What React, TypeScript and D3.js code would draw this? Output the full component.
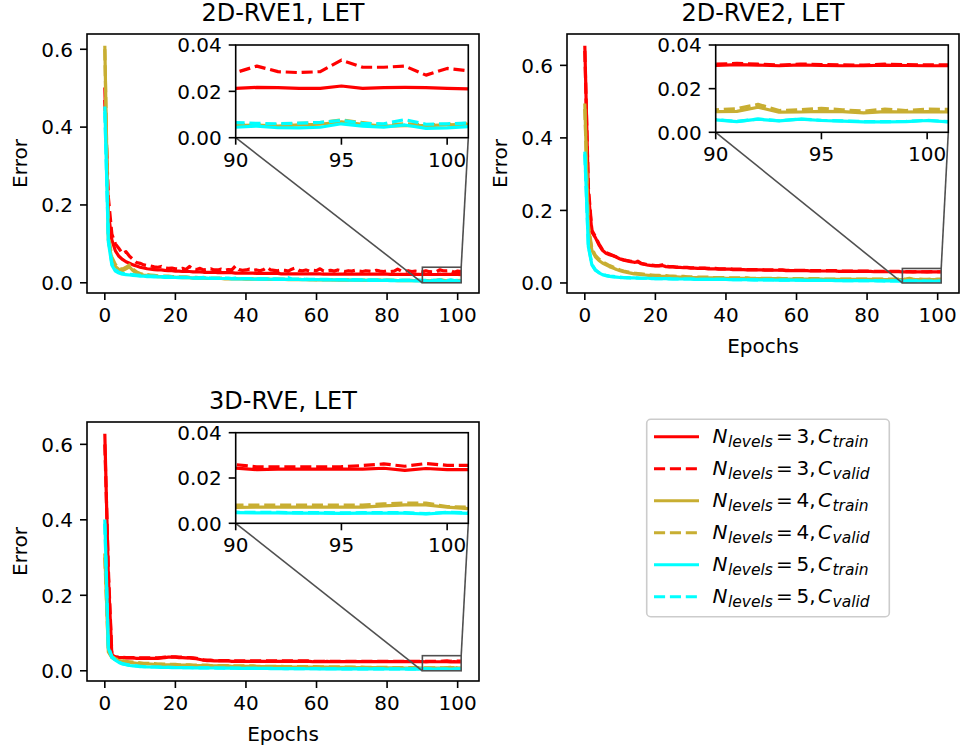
import React from 'react';
import * as d3 from 'd3';

// ---------------- DATA ----------------
const EPOCHS: number[] = d3.range(0, 102);
const LEVELS = [3, 4, 5];
const SUBSETS = ['train', 'valid'];
const MAIN_X_TICKS = [0, 20, 40, 60, 80, 100];
const MAIN_Y_TICKS = [0, 0.2, 0.4, 0.6];
const INSET_X = [90, 101];
const INSET_Y = [0, 0.04];
const INSET_X_TICKS = [90, 95, 100];
const INSET_Y_TICKS = [0, 0.02, 0.04];

// 2D-RVE1
const rve1_n3_train = [0.502,0.180,0.110,0.082,0.068,0.060,0.054,0.050,0.046,0.043,
0.040,0.038,0.036,0.035,0.034,0.033,0.033,0.032,0.031,0.031,
0.030,0.030,0.029,0.029,0.029,0.028,0.028,0.028,0.027,0.027,
0.027,0.027,0.026,0.026,0.026,0.026,0.026,0.025,0.025,0.025,
0.025,0.025,0.025,0.024,0.024,0.024,0.024,0.024,0.024,0.024,
0.023,0.023,0.023,0.023,0.023,0.023,0.023,0.023,0.023,0.023,
0.023,0.023,0.022,0.022,0.022,0.022,0.022,0.022,0.022,0.022,
0.022,0.022,0.022,0.022,0.022,0.022,0.022,0.022,0.022,0.022,
0.022,0.0218,0.0218,0.0217,0.0216,0.0216,0.0215,0.0215,0.0214,0.0214,
0.0213,0.0217,0.0216,0.0213,0.0213,0.0223,0.0213,0.0216,0.0217,0.0216,0.0213,0.0211];
const rve1_n3_valid = [0.470,0.220,0.125,0.100,0.088,0.075,0.080,0.068,0.060,0.052,
0.050,0.046,0.044,0.043,0.041,0.040,0.042,0.038,0.037,0.038,
0.036,0.035,0.037,0.034,0.042,0.035,0.034,0.037,0.033,0.034,
0.036,0.033,0.033,0.035,0.032,0.034,0.033,0.043,0.034,0.032,
0.033,0.035,0.032,0.033,0.031,0.034,0.040,0.033,0.032,0.031,
0.033,0.032,0.030,0.035,0.038,0.032,0.031,0.033,0.030,0.032,
0.031,0.036,0.030,0.031,0.032,0.030,0.033,0.031,0.029,0.031,
0.030,0.032,0.030,0.029,0.031,0.030,0.029,0.032,0.030,0.029,
0.031,0.029,0.030,0.035,0.030,0.029,0.031,0.029,0.030,0.029,
0.0281,0.0309,0.0285,0.0281,0.0285,0.0335,0.0304,0.0304,0.0309,0.0270,0.0299,0.0289];
const rve1_n4_train = [0.609,0.110,0.060,0.042,0.034,0.031,0.036,0.041,0.031,0.025,
0.022,0.020,0.019,0.018,0.017,0.016,0.016,0.015,0.015,0.014,
0.014,0.014,0.013,0.013,0.013,0.012,0.012,0.012,0.012,0.011,
0.011,0.011,0.011,0.011,0.010,0.010,0.010,0.010,0.010,0.0098,
0.0096,0.0095,0.0094,0.0093,0.0092,0.0090,0.0089,0.0088,0.0087,0.0086,
0.0085,0.0084,0.0083,0.0082,0.0081,0.0080,0.0079,0.0078,0.0077,0.0076,
0.0075,0.0074,0.0073,0.0072,0.0071,0.0070,0.0070,0.0069,0.0068,0.0067,
0.0066,0.0066,0.0065,0.0064,0.0064,0.0063,0.0062,0.0062,0.0061,0.0060,
0.0060,0.0059,0.0059,0.0058,0.0058,0.0057,0.0057,0.0056,0.0056,0.0055,
0.0052,0.0054,0.0050,0.0055,0.0058,0.0068,0.0058,0.0050,0.0052,0.0052,0.0055,0.0058];
const rve1_n4_valid = [0.600,0.125,0.066,0.047,0.038,0.035,0.040,0.046,0.035,0.028,
0.024,0.022,0.021,0.020,0.019,0.018,0.018,0.017,0.017,0.016,
0.016,0.015,0.015,0.015,0.014,0.014,0.014,0.013,0.013,0.013,
0.012,0.012,0.012,0.012,0.011,0.011,0.011,0.011,0.011,0.0108,
0.0106,0.0104,0.0103,0.0102,0.0100,0.0099,0.0098,0.0097,0.0096,0.0094,
0.0093,0.0092,0.0091,0.0090,0.0089,0.0088,0.0087,0.0086,0.0085,0.0084,
0.0083,0.0082,0.0081,0.0080,0.0079,0.0078,0.0077,0.0076,0.0076,0.0075,
0.0074,0.0073,0.0072,0.0072,0.0071,0.0070,0.0069,0.0069,0.0068,0.0067,
0.0067,0.0066,0.0065,0.0065,0.0064,0.0064,0.0063,0.0063,0.0062,0.0062,
0.0058,0.0055,0.0055,0.0062,0.0065,0.0077,0.0065,0.0055,0.0060,0.0055,0.0058,0.0062];
const rve1_n5_train = [0.453,0.105,0.045,0.030,0.025,0.022,0.021,0.020,0.019,0.018,
0.017,0.017,0.016,0.016,0.015,0.015,0.015,0.014,0.014,0.014,
0.014,0.013,0.013,0.013,0.013,0.012,0.012,0.012,0.012,0.012,
0.011,0.011,0.011,0.011,0.011,0.011,0.010,0.010,0.010,0.010,
0.010,0.0098,0.0096,0.0095,0.0094,0.0093,0.0092,0.0091,0.0090,0.0089,
0.0088,0.0087,0.0095,0.0086,0.0085,0.0084,0.0083,0.0082,0.0081,0.0080,
0.0079,0.0078,0.0077,0.0076,0.0075,0.0074,0.0073,0.0072,0.0071,0.0070,
0.0069,0.0068,0.0067,0.0066,0.0065,0.0064,0.0063,0.0062,0.0061,0.0060,
0.0059,0.0058,0.0057,0.0056,0.0055,0.0054,0.0053,0.0052,0.0051,0.0050,
0.0045,0.0050,0.0043,0.0042,0.0045,0.0060,0.0050,0.0045,0.0055,0.0040,0.0042,0.0048];
const rve1_n5_valid = [0.440,0.112,0.050,0.033,0.027,0.024,0.023,0.022,0.021,0.020,
0.019,0.018,0.018,0.017,0.017,0.016,0.016,0.016,0.015,0.015,
0.015,0.014,0.014,0.014,0.014,0.013,0.013,0.013,0.014,0.013,
0.012,0.012,0.012,0.012,0.012,0.012,0.011,0.012,0.011,0.011,
0.011,0.011,0.010,0.010,0.010,0.010,0.010,0.010,0.0098,0.0097,
0.0096,0.0096,0.0130,0.0095,0.0094,0.0093,0.0092,0.0091,0.0090,0.0089,
0.0088,0.0088,0.0087,0.0086,0.0085,0.0084,0.0083,0.0082,0.0081,0.0080,
0.0080,0.0079,0.0078,0.0077,0.0076,0.0076,0.0075,0.0074,0.0073,0.0072,
0.0072,0.0071,0.0070,0.0070,0.0069,0.0068,0.0068,0.0067,0.0066,0.0066,
0.0065,0.0062,0.0060,0.0063,0.0066,0.0075,0.0062,0.0060,0.0078,0.0058,0.0060,0.0063];

// 2D-RVE2
const rve2_n3_train = [0.654,0.250,0.140,0.125,0.105,0.090,0.082,0.078,0.075,0.071,
0.066,0.063,0.061,0.059,0.057,0.058,0.053,0.051,0.049,0.048,
0.047,0.047,0.048,0.045,0.044,0.044,0.043,0.043,0.042,0.042,
0.041,0.041,0.040,0.040,0.040,0.039,0.039,0.039,0.038,0.038,
0.038,0.038,0.037,0.037,0.037,0.037,0.036,0.036,0.036,0.036,
0.036,0.035,0.035,0.035,0.035,0.035,0.035,0.034,0.034,0.034,
0.034,0.034,0.034,0.034,0.033,0.033,0.033,0.033,0.033,0.033,
0.033,0.033,0.032,0.032,0.032,0.032,0.032,0.032,0.032,0.032,
0.032,0.032,0.031,0.031,0.031,0.031,0.031,0.031,0.031,0.031,
0.0306,0.0310,0.0308,0.0305,0.0309,0.0306,0.0305,0.0305,0.0308,0.0306,0.0305,0.0305];
const rve2_n3_valid = [0.640,0.265,0.145,0.128,0.108,0.092,0.084,0.080,0.076,0.072,
0.067,0.064,0.062,0.060,0.058,0.060,0.054,0.052,0.050,0.049,
0.048,0.048,0.050,0.046,0.045,0.045,0.044,0.044,0.043,0.043,
0.042,0.042,0.041,0.041,0.041,0.040,0.040,0.040,0.039,0.039,
0.039,0.039,0.038,0.038,0.038,0.038,0.037,0.037,0.037,0.037,
0.037,0.036,0.036,0.036,0.036,0.036,0.036,0.035,0.035,0.035,
0.035,0.035,0.035,0.035,0.034,0.034,0.034,0.034,0.034,0.034,
0.034,0.034,0.033,0.033,0.033,0.033,0.033,0.033,0.033,0.033,
0.033,0.033,0.032,0.032,0.032,0.032,0.032,0.032,0.032,0.032,
0.0312,0.0316,0.0312,0.0308,0.0313,0.0310,0.0309,0.0308,0.0312,0.0310,0.0309,0.0309];
const rve2_n4_train = [0.495,0.150,0.090,0.072,0.062,0.055,0.050,0.045,0.041,0.037,
0.034,0.031,0.029,0.027,0.025,0.024,0.023,0.022,0.021,0.020,
0.019,0.019,0.018,0.018,0.017,0.017,0.017,0.016,0.016,0.016,
0.015,0.015,0.015,0.015,0.014,0.014,0.014,0.014,0.014,0.014,
0.013,0.013,0.013,0.013,0.013,0.013,0.013,0.012,0.012,0.012,
0.012,0.012,0.012,0.012,0.012,0.012,0.011,0.011,0.011,0.011,
0.011,0.011,0.011,0.011,0.011,0.011,0.011,0.011,0.010,0.010,
0.010,0.010,0.010,0.010,0.010,0.010,0.010,0.010,0.010,0.010,
0.010,0.0098,0.0098,0.0097,0.0097,0.0096,0.0096,0.0096,0.0095,0.0095,
0.0095,0.0096,0.0115,0.0092,0.0093,0.0096,0.0095,0.0089,0.0095,0.0093,0.0095,0.0093];
const rve2_n4_valid = [0.480,0.160,0.095,0.076,0.066,0.058,0.053,0.048,0.044,0.040,
0.036,0.033,0.031,0.029,0.027,0.026,0.025,0.024,0.023,0.022,
0.021,0.021,0.020,0.020,0.019,0.019,0.018,0.018,0.018,0.017,
0.017,0.017,0.016,0.016,0.016,0.016,0.015,0.015,0.015,0.015,
0.015,0.014,0.014,0.014,0.014,0.014,0.014,0.013,0.013,0.013,
0.013,0.013,0.013,0.013,0.013,0.013,0.012,0.012,0.012,0.012,
0.012,0.012,0.012,0.012,0.012,0.012,0.012,0.012,0.011,0.011,
0.011,0.011,0.011,0.011,0.011,0.011,0.011,0.011,0.011,0.011,
0.011,0.011,0.0108,0.0107,0.0107,0.0106,0.0106,0.0105,0.0105,0.0104,
0.0103,0.0108,0.0128,0.0100,0.0103,0.0110,0.0103,0.0097,0.0106,0.0100,0.0106,0.0105];
const rve2_n5_train = [0.362,0.100,0.050,0.035,0.028,0.023,0.020,0.018,0.017,0.016,
0.015,0.015,0.014,0.014,0.014,0.013,0.013,0.013,0.013,0.012,
0.012,0.012,0.012,0.012,0.011,0.011,0.011,0.011,0.011,0.011,
0.011,0.010,0.010,0.010,0.010,0.010,0.010,0.010,0.0098,0.0097,
0.0096,0.0094,0.0093,0.0092,0.0091,0.0090,0.0089,0.0088,0.0087,0.0086,
0.0085,0.0084,0.0083,0.0082,0.0081,0.0080,0.0079,0.0078,0.0077,0.0076,
0.0075,0.0075,0.0074,0.0073,0.0072,0.0071,0.0071,0.0070,0.0069,0.0068,
0.0068,0.0067,0.0066,0.0066,0.0065,0.0064,0.0064,0.0063,0.0063,0.0062,
0.0062,0.0061,0.0061,0.0060,0.0060,0.0059,0.0059,0.0058,0.0058,0.0057,
0.0057,0.0049,0.0060,0.0052,0.0060,0.0054,0.0051,0.0048,0.0048,0.0049,0.0054,0.0048];
const rve2_n5_valid = [0.355,0.104,0.052,0.036,0.029,0.024,0.021,0.019,0.018,0.017,
0.016,0.015,0.015,0.014,0.014,0.014,0.013,0.013,0.013,0.013,
0.012,0.012,0.012,0.012,0.012,0.011,0.011,0.011,0.011,0.011,
0.011,0.011,0.010,0.010,0.010,0.010,0.010,0.010,0.010,0.0098,
0.0097,0.0096,0.0094,0.0093,0.0092,0.0091,0.0090,0.0089,0.0088,0.0087,
0.0086,0.0085,0.0084,0.0083,0.0082,0.0081,0.0080,0.0079,0.0078,0.0077,
0.0077,0.0076,0.0075,0.0074,0.0073,0.0073,0.0072,0.0071,0.0070,0.0070,
0.0069,0.0068,0.0068,0.0067,0.0066,0.0066,0.0065,0.0065,0.0064,0.0063,
0.0063,0.0062,0.0062,0.0061,0.0061,0.0060,0.0060,0.0059,0.0059,0.0058,
0.0058,0.0050,0.0061,0.0053,0.0061,0.0055,0.0052,0.0049,0.0049,0.0050,0.0055,0.0049];

// 3D-RVE
const rve3_n3_train = [0.628,0.250,0.040,0.036,0.035,0.035,0.034,0.034,0.034,0.033,
0.033,0.033,0.033,0.033,0.033,0.033,0.034,0.035,0.036,0.036,
0.036,0.035,0.035,0.034,0.034,0.033,0.032,0.030,0.028,0.027,
0.027,0.026,0.026,0.026,0.026,0.026,0.025,0.025,0.025,0.025,
0.025,0.025,0.025,0.025,0.025,0.025,0.025,0.025,0.025,0.025,
0.025,0.025,0.025,0.025,0.025,0.025,0.025,0.025,0.025,0.024,
0.024,0.024,0.024,0.025,0.024,0.024,0.024,0.024,0.024,0.024,
0.024,0.024,0.024,0.024,0.024,0.024,0.024,0.024,0.024,0.024,
0.024,0.024,0.024,0.024,0.024,0.024,0.024,0.024,0.024,0.024,
0.0244,0.0237,0.0239,0.0239,0.0239,0.0239,0.0239,0.0243,0.0234,0.0242,0.0237,0.0237];
const rve3_n3_valid = [0.600,0.270,0.042,0.037,0.036,0.036,0.035,0.035,0.035,0.034,
0.034,0.034,0.034,0.034,0.034,0.034,0.035,0.036,0.037,0.037,
0.037,0.036,0.036,0.035,0.035,0.034,0.033,0.031,0.029,0.028,
0.028,0.027,0.027,0.027,0.027,0.027,0.026,0.026,0.026,0.026,
0.026,0.026,0.026,0.026,0.026,0.026,0.026,0.026,0.026,0.026,
0.026,0.026,0.026,0.026,0.026,0.026,0.026,0.026,0.026,0.025,
0.025,0.025,0.025,0.026,0.025,0.025,0.025,0.025,0.025,0.025,
0.025,0.025,0.025,0.025,0.025,0.025,0.025,0.025,0.025,0.025,
0.025,0.025,0.025,0.025,0.025,0.025,0.025,0.025,0.025,0.025,
0.0259,0.0249,0.0249,0.0249,0.0249,0.0250,0.0255,0.0262,0.0252,0.0264,0.0256,0.0256];
const rve3_n4_train = [0.311,0.050,0.035,0.030,0.027,0.025,0.023,0.022,0.021,0.020,
0.019,0.019,0.018,0.018,0.017,0.017,0.017,0.016,0.016,0.016,
0.016,0.015,0.015,0.015,0.015,0.014,0.014,0.014,0.014,0.014,
0.013,0.013,0.013,0.013,0.013,0.013,0.012,0.012,0.012,0.012,
0.012,0.012,0.012,0.011,0.011,0.011,0.011,0.011,0.011,0.011,
0.011,0.010,0.010,0.010,0.010,0.010,0.010,0.010,0.010,0.010,
0.0098,0.0097,0.0096,0.0095,0.0094,0.0093,0.0092,0.0091,0.0090,0.0089,
0.0088,0.0087,0.0086,0.0085,0.0084,0.0083,0.0082,0.0081,0.0080,0.0079,
0.0078,0.0077,0.0076,0.0075,0.0074,0.0073,0.0072,0.0072,0.0071,0.0071,
0.0070,0.0071,0.0071,0.0071,0.0071,0.0071,0.0071,0.0077,0.0081,0.0081,0.0071,0.0065];
const rve3_n4_valid = [0.300,0.055,0.038,0.032,0.029,0.027,0.025,0.024,0.023,0.022,
0.021,0.020,0.020,0.019,0.019,0.018,0.018,0.018,0.017,0.017,
0.017,0.016,0.016,0.016,0.016,0.015,0.015,0.015,0.015,0.015,
0.014,0.014,0.014,0.014,0.014,0.014,0.013,0.013,0.013,0.013,
0.013,0.013,0.013,0.012,0.012,0.012,0.012,0.012,0.012,0.012,
0.012,0.011,0.011,0.011,0.011,0.011,0.011,0.011,0.011,0.011,
0.0108,0.0107,0.0106,0.0105,0.0104,0.0103,0.0102,0.0101,0.0100,0.0099,
0.0098,0.0097,0.0096,0.0095,0.0094,0.0093,0.0092,0.0091,0.0090,0.0089,
0.0088,0.0087,0.0086,0.0085,0.0084,0.0083,0.0082,0.0082,0.0081,0.0081,
0.0080,0.0080,0.0080,0.0080,0.0080,0.0080,0.0080,0.0086,0.0089,0.0089,0.0074,0.0071];
const rve3_n5_train = [0.401,0.060,0.035,0.028,0.022,0.018,0.016,0.014,0.013,0.012,
0.011,0.011,0.010,0.010,0.010,0.0095,0.0092,0.0090,0.0088,0.0086,
0.0085,0.0084,0.0082,0.0081,0.0080,0.0079,0.0078,0.0077,0.0076,0.0075,
0.0074,0.0073,0.0072,0.0071,0.0070,0.0069,0.0068,0.0067,0.0066,0.0065,
0.0064,0.0063,0.0062,0.0062,0.0061,0.0060,0.0060,0.0059,0.0059,0.0058,
0.0058,0.0057,0.0057,0.0056,0.0056,0.0055,0.0055,0.0054,0.0054,0.0053,
0.0053,0.0052,0.0052,0.0052,0.0051,0.0051,0.0051,0.0050,0.0050,0.0050,
0.0050,0.0049,0.0049,0.0049,0.0049,0.0048,0.0048,0.0048,0.0048,0.0048,
0.0047,0.0047,0.0047,0.0047,0.0047,0.0047,0.0046,0.0046,0.0046,0.0046,
0.0047,0.0046,0.0046,0.0045,0.0045,0.0044,0.0045,0.0045,0.0045,0.0041,0.0047,0.0044];
const rve3_n5_valid = [0.390,0.064,0.037,0.029,0.023,0.019,0.017,0.015,0.014,0.013,
0.012,0.011,0.011,0.010,0.010,0.010,0.0095,0.0093,0.0091,0.0089,
0.0087,0.0086,0.0084,0.0083,0.0082,0.0081,0.0080,0.0079,0.0078,0.0077,
0.0076,0.0075,0.0074,0.0073,0.0072,0.0071,0.0070,0.0069,0.0068,0.0067,
0.0066,0.0065,0.0064,0.0064,0.0063,0.0062,0.0062,0.0061,0.0061,0.0060,
0.0060,0.0059,0.0059,0.0058,0.0058,0.0057,0.0057,0.0056,0.0056,0.0055,
0.0055,0.0054,0.0054,0.0054,0.0053,0.0053,0.0053,0.0052,0.0052,0.0052,
0.0052,0.0051,0.0051,0.0051,0.0051,0.0050,0.0050,0.0050,0.0050,0.0050,
0.0049,0.0049,0.0049,0.0049,0.0049,0.0049,0.0048,0.0048,0.0048,0.0048,
0.0049,0.0048,0.0048,0.0047,0.0047,0.0046,0.0047,0.0047,0.0047,0.0043,0.0049,0.0046];

const TITLES = ['2D-RVE1, LET', '2D-RVE2, LET', '3D-RVE, LET'];

// ---------------- STYLE / LAYOUT ----------------
const COLORS: Record<number, string> = { 3: '#ff0000', 4: '#c8ae32', 5: '#00ffff' };
const DASH = '11.1,4.8';
const FONT = 'DejaVu Sans, Verdana, sans-serif';

type Series = { level: number; subset: string; values: number[] };
const mk = (vals: number[][]): Series[] =>
  LEVELS.flatMap((lv, li) => SUBSETS.map((sb, si) => ({ level: lv, subset: sb, values: vals[li * 2 + si] })));

const PANELS = [
  {
    title: TITLES[0],
    series: mk([rve1_n3_train, rve1_n3_valid, rve1_n4_train, rve1_n4_valid, rve1_n5_train, rve1_n5_valid]),
    box: { x0: 87, x1: 479, y0: 34, y1: 293 },
    inset: { x0: 235.7, x1: 468.3, y0: 45, y1: 137.7 },
    xlabel: false,
    ylabelX: 26.5,
  },
  {
    title: TITLES[1],
    series: mk([rve2_n3_train, rve2_n3_valid, rve2_n4_train, rve2_n4_valid, rve2_n5_train, rve2_n5_valid]),
    box: { x0: 567, x1: 959, y0: 34, y1: 293 },
    inset: { x0: 715.7, x1: 948.3, y0: 45, y1: 132.3 },
    xlabel: true,
    ylabelX: 506.5,
  },
  {
    title: TITLES[2],
    series: mk([rve3_n3_train, rve3_n3_valid, rve3_n4_train, rve3_n4_valid, rve3_n5_train, rve3_n5_valid]),
    box: { x0: 87, x1: 479, y0: 422, y1: 681 },
    inset: { x0: 235.7, x1: 468.3, y0: 432.7, y1: 523.3 },
    xlabel: true,
    ylabelX: 26.5,
  },
];

const SPINE = 1.6;
const TICK = 7;
const LW = 3.2;

function Panel({ p, idx }: { p: any; idx: number }) {
  const { box, inset } = p;
  const all: number[] = p.series.flatMap((s: Series) => s.values);
  const [ymin, ymax] = d3.extent(all) as [number, number];
  const yr = ymax - ymin;
  const [xmin, xmax] = d3.extent(EPOCHS) as [number, number];
  const xr = xmax - xmin;
  const x = d3.scaleLinear().domain([xmin - 0.05 * xr, xmax + 0.05 * xr]).range([box.x0, box.x1]);
  const y = d3.scaleLinear().domain([ymin - 0.05 * yr, ymax + 0.05 * yr]).range([box.y1, box.y0]);
  const xi = d3.scaleLinear().domain(INSET_X).range([inset.x0, inset.x1]);
  const yi = d3.scaleLinear().domain(INSET_Y).range([inset.y1, inset.y0]);
  const line = d3.line<number>().x((_, i) => x(EPOCHS[i])).y((v) => y(v));
  const lineI = d3.line<number>().x((_, i) => xi(EPOCHS[i])).y((v) => yi(v));
  const cx = (box.x0 + box.x1) / 2;
  const cy = (box.y0 + box.y1) / 2;
  const f1 = d3.format('.1f');
  const f2 = d3.format('.2f');
  const rx0 = x(INSET_X[0]), rx1 = x(INSET_X[1]);
  const ry0 = y(INSET_Y[1]), ry1 = y(INSET_Y[0]);
  const clipMain = `clip-main-${idx}`;
  const clipIn = `clip-in-${idx}`;

  return (
    <g>
      <defs>
        <clipPath id={clipMain}>
          <rect x={box.x0} y={box.y0} width={box.x1 - box.x0} height={box.y1 - box.y0} />
        </clipPath>
        <clipPath id={clipIn}>
          <rect x={inset.x0} y={inset.y0} width={inset.x1 - inset.x0} height={inset.y1 - inset.y0} />
        </clipPath>
      </defs>
      <text x={cx} y={box.y0 - 13} textAnchor="middle" fontSize={24} fontFamily={FONT} fill="#000">
        {p.title}
      </text>
      <g clipPath={`url(#${clipMain})`}>
        {p.series.map((s: Series, i: number) => (
          <path key={i} d={line(s.values) || ''} fill="none" stroke={COLORS[s.level]} strokeWidth={LW}
            strokeDasharray={s.subset === 'valid' ? DASH : undefined} strokeLinejoin="round" />
        ))}
      </g>
      <rect x={rx0} y={ry0} width={rx1 - rx0} height={ry1 - ry0} fill="none" stroke="#505050" strokeWidth={1.6} />
      <line x1={inset.x0} y1={inset.y1} x2={rx0} y2={ry1} stroke="#505050" strokeWidth={1.6} />
      <line x1={inset.x1} y1={inset.y1} x2={rx1} y2={ry0} stroke="#505050" strokeWidth={1.6} />
      <rect x={box.x0} y={box.y0} width={box.x1 - box.x0} height={box.y1 - box.y0} fill="none" stroke="#000" strokeWidth={SPINE} />
      {MAIN_X_TICKS.map((t) => (
        <g key={'x' + t}>
          <line x1={x(t)} x2={x(t)} y1={box.y1} y2={box.y1 + TICK} stroke="#000" strokeWidth={SPINE} />
          <text x={x(t)} y={box.y1 + 29} textAnchor="middle" fontSize={20} fontFamily={FONT}>{t}</text>
        </g>
      ))}
      {MAIN_Y_TICKS.map((t) => (
        <g key={'y' + t}>
          <line x1={box.x0 - TICK} x2={box.x0} y1={y(t)} y2={y(t)} stroke="#000" strokeWidth={SPINE} />
          <text x={box.x0 - 14} y={y(t) + 7.3} textAnchor="end" fontSize={20} fontFamily={FONT}>{f1(t)}</text>
        </g>
      ))}
      <text transform={`translate(${p.ylabelX},${cy}) rotate(-90)`} textAnchor="middle" fontSize={20} fontFamily={FONT}>Error</text>
      {p.xlabel && (
        <text x={cx} y={box.y1 + 60} textAnchor="middle" fontSize={20} fontFamily={FONT}>Epochs</text>
      )}
      <rect x={inset.x0} y={inset.y0} width={inset.x1 - inset.x0} height={inset.y1 - inset.y0} fill="#fff" />
      <g clipPath={`url(#${clipIn})`}>
        {p.series.map((s: Series, i: number) => (
          <path key={i} d={lineI(s.values) || ''} fill="none" stroke={COLORS[s.level]} strokeWidth={LW}
            strokeDasharray={s.subset === 'valid' ? DASH : undefined} strokeLinejoin="round" />
        ))}
      </g>
      <rect x={inset.x0} y={inset.y0} width={inset.x1 - inset.x0} height={inset.y1 - inset.y0} fill="none" stroke="#000" strokeWidth={SPINE} />
      {INSET_X_TICKS.map((t) => (
        <g key={'ix' + t}>
          <line x1={xi(t)} x2={xi(t)} y1={inset.y1} y2={inset.y1 + TICK} stroke="#000" strokeWidth={SPINE} />
          <text x={xi(t)} y={inset.y1 + 29} textAnchor="middle" fontSize={20} fontFamily={FONT}>{t}</text>
        </g>
      ))}
      {INSET_Y_TICKS.map((t) => (
        <g key={'iy' + t}>
          <line x1={inset.x0 - TICK} x2={inset.x0} y1={yi(t)} y2={yi(t)} stroke="#000" strokeWidth={SPINE} />
          <text x={inset.x0 - 14} y={yi(t) + 7.3} textAnchor="end" fontSize={20} fontFamily={FONT}>{f2(t)}</text>
        </g>
      ))}
    </g>
  );
}

function Legend() {
  const entries = LEVELS.flatMap((lv) => SUBSETS.map((sb) => ({ level: lv, subset: sb })));
  const y0 = 436.7;
  const step = 32;
  return (
    <g fontFamily={FONT}>
      <rect x={646.7} y={419.3} width={242.6} height={197.4} rx={4} fill="#fff" stroke="#cccccc" strokeWidth={1.6} />
      {entries.map((e, i) => {
        const yy = y0 + i * step;
        const base = yy + 6.6;
        return (
          <g key={i}>
            <line x1={654} x2={699} y1={yy} y2={yy} stroke={COLORS[e.level]} strokeWidth={3}
              strokeDasharray={e.subset === 'valid' ? DASH : undefined} />
            <text x={712.5} y={base} fontSize={20} fontStyle="italic">N</text>
            <text x={728} y={base + 3.5} fontSize={15.5} fontStyle="italic">levels</text>
            <text x={776} y={base} fontSize={20}>=</text>
            <text x={796.5} y={base} fontSize={20}>{`${e.level},`}</text>
            <text x={818} y={base} fontSize={20} fontStyle="italic">C</text>
            <text x={832.5} y={base + 3.5} fontSize={15.5} fontStyle="italic">{e.subset}</text>
          </g>
        );
      })}
    </g>
  );
}

export default function App() {
  return (
    <svg width={961} height={749} viewBox="0 0 961 749"
      style={{ position: 'absolute', left: 0, top: 0, background: '#fff' }}>
      <rect x={0} y={0} width={961} height={749} fill="#fff" />
      {PANELS.map((p, i) => <Panel key={i} p={p} idx={i} />)}
      <Legend />
    </svg>
  );
}
